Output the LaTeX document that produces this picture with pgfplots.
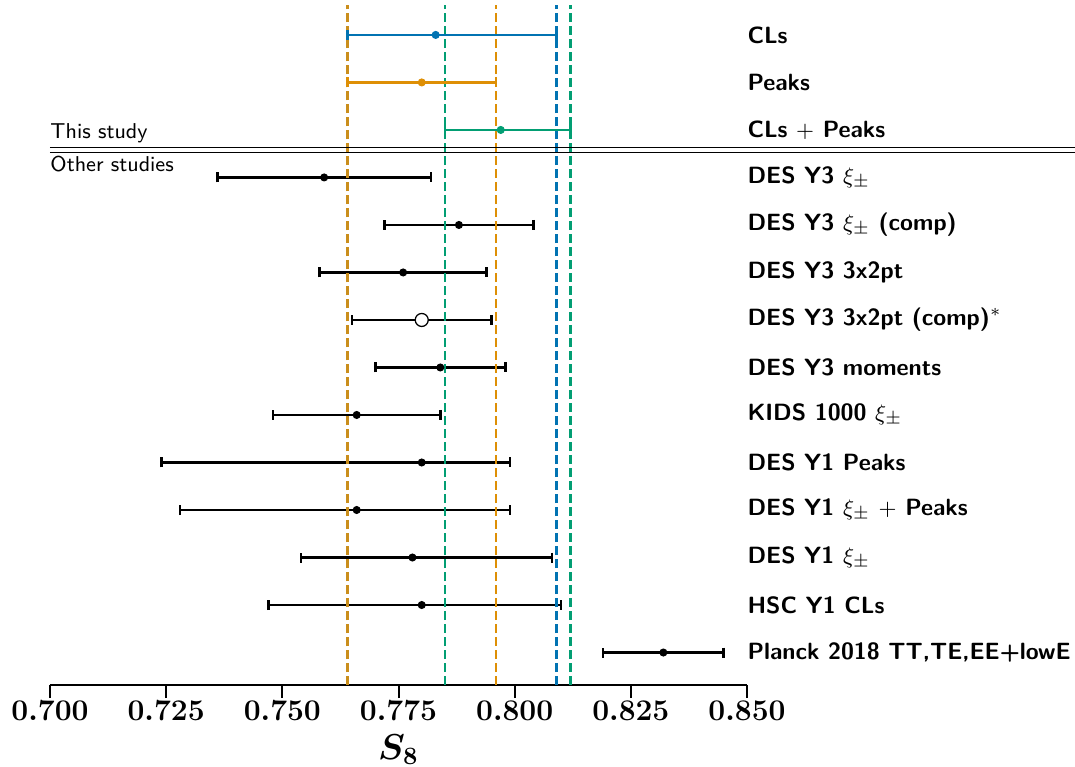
\documentclass[border=0pt]{standalone}
\usepackage{pgfplots}
\pgfplotsset{compat=1.18}
\usepackage{pgfplotstable}
\definecolor{cblue}{HTML}{0173B2}
\definecolor{corange}{HTML}{DE8F05}
\definecolor{corangedark}{HTML}{CA8E1C}
\definecolor{cgreen}{HTML}{029E73}

\pgfplotstableread{
y   x     em    ep
10  0.759 0.023 0.023
9   0.788 0.016 0.016
8   0.776 0.018 0.018
7   0.780 0.015 0.015
6   0.784 0.014 0.014
5   0.766 0.018 0.018
4   0.780 0.056 0.019
3   0.766 0.038 0.033
2   0.778 0.024 0.030
1   0.780 0.033 0.030
0   0.832 0.013 0.013
}\other

\begin{document}
\begin{tikzpicture}
\path[use as bounding box] (-20pt,-32.4pt) rectangle (410pt,274pt);
\begin{axis}[
  width=278.8pt, height=272pt, scale only axis,
  xmin=0.7, xmax=0.85, ymin=-0.684, ymax=13.63,
  axis x line*=bottom, axis y line=none,
  xtick={0.700,0.725,0.750,0.775,0.800,0.825,0.850},
  x axis line style={line width=0.8pt},
  xtick style={line width=0.8pt, black},
  xtick align=outside, major tick length=5.2pt,
  xticklabel style={font=\fontsize{12}{14}\selectfont\boldmath, inner sep=1pt, /pgf/number format/.cd, fixed, fixed zerofill, precision=3},
  xlabel={$S_8$},
  xlabel style={font=\fontsize{13.8}{16}\selectfont\boldmath, inner sep=0pt, at={(axis description cs:0.5,0)}, anchor=center, yshift=-25.8pt},
  clip=false,
]
% other studies
\addplot[only marks, mark=*, mark size=1.4pt, black,
  error bars/.cd, x dir=both, x explicit,
  error bar style={line width=1.05pt, black},
  error mark options={rotate=90, line width=1.05pt, mark size=2pt, black}]
  table[x=x, y=y, x error plus=ep, x error minus=em] {\other};
% open marker
\addplot[only marks, mark=*, mark size=2.6pt, mark options={fill=white, draw=black, line width=0.5pt}] coordinates {(0.780,7)};
% dashed lines
\addplot[cblue, line width=1pt, dash pattern=on 3.6pt off 1.6pt] coordinates {(0.764,-0.684) (0.764,13.63)};
\addplot[corangedark, line width=1pt, dash pattern=on 3.6pt off 1.6pt] coordinates {(0.764,-0.684) (0.764,13.63)};
\addplot[corange, line width=1pt, dash pattern=on 3.6pt off 1.6pt] coordinates {(0.796,-0.684) (0.796,13.63)};
\addplot[cblue, line width=1pt, dash pattern=on 3.6pt off 1.6pt] coordinates {(0.809,-0.684) (0.809,13.63)};
\addplot[cgreen, line width=1pt, dash pattern=on 3.6pt off 1.6pt] coordinates {(0.785,-0.684) (0.785,13.63)};
\addplot[cgreen, line width=1pt, dash pattern=on 3.6pt off 1.6pt] coordinates {(0.812,-0.684) (0.812,13.63)};
% this study
\addplot[only marks, mark=*, mark size=1.4pt, cblue,
  error bars/.cd, x dir=both, x explicit,
  error bar style={line width=1pt, cblue},
  error mark options={rotate=90, line width=1pt, mark size=2pt, cblue}]
  coordinates {(0.783,13) += (0.026,0) -= (0.019,0)};
\addplot[only marks, mark=*, mark size=1.4pt, corange,
  error bars/.cd, x dir=both, x explicit,
  error bar style={line width=1pt, corange},
  error mark options={rotate=90, line width=1pt, mark size=2pt, corange}]
  coordinates {(0.780,12) += (0.016,0) -= (0.016,0)};
\addplot[only marks, mark=*, mark size=1.4pt, cgreen,
  error bars/.cd, x dir=both, x explicit,
  error bar style={line width=1pt, cgreen},
  error mark options={rotate=90, line width=1pt, mark size=2pt, cgreen}]
  coordinates {(0.797,11) += (0.015,0) -= (0.012,0)};
% separator
\addplot[black, line width=0.5pt] coordinates {(0.7,10.636) (0.9206,10.636)};
\addplot[black, line width=0.5pt] coordinates {(0.7,10.531) (0.9206,10.531)};
\node[anchor=base west, inner sep=0pt, font=\sffamily\fontsize{8.6}{10}\selectfont] at (axis cs:0.7,10.83) {This study};
\node[anchor=base west, inner sep=0pt, font=\sffamily\fontsize{8.6}{10}\selectfont] at (axis cs:0.7,10.116) {Other studies};
% labels
\begin{scope}[every node/.style={anchor=west, inner sep=0pt, font=\sffamily\bfseries\fontsize{9.4}{11}\selectfont}]
\node at (axis cs:0.85,13) {CLs};
\node at (axis cs:0.85,12) {Peaks};
\node at (axis cs:0.85,11) {CLs $+$ Peaks};
\node at (axis cs:0.85,10) {DES Y3 $\xi_{\pm}$};
\node at (axis cs:0.85,9) {DES Y3 $\xi_{\pm}$ (comp)};
\node at (axis cs:0.85,8) {DES Y3 3x2pt};
\node at (axis cs:0.85,7) {DES Y3 3x2pt (comp)$^{*}$};
\node at (axis cs:0.85,6) {DES Y3 moments};
\node at (axis cs:0.85,5) {KIDS 1000 $\xi_{\pm}$};
\node at (axis cs:0.85,4) {DES Y1 Peaks};
\node at (axis cs:0.85,3) {DES Y1 $\xi_{\pm}$ $+$ Peaks};
\node at (axis cs:0.85,2) {DES Y1 $\xi_{\pm}$};
\node at (axis cs:0.85,1) {HSC Y1 CLs};
\node at (axis cs:0.85,0) {Planck 2018 TT,TE,EE+lowE};
\end{scope}
\end{axis}
\end{tikzpicture}
\end{document}
